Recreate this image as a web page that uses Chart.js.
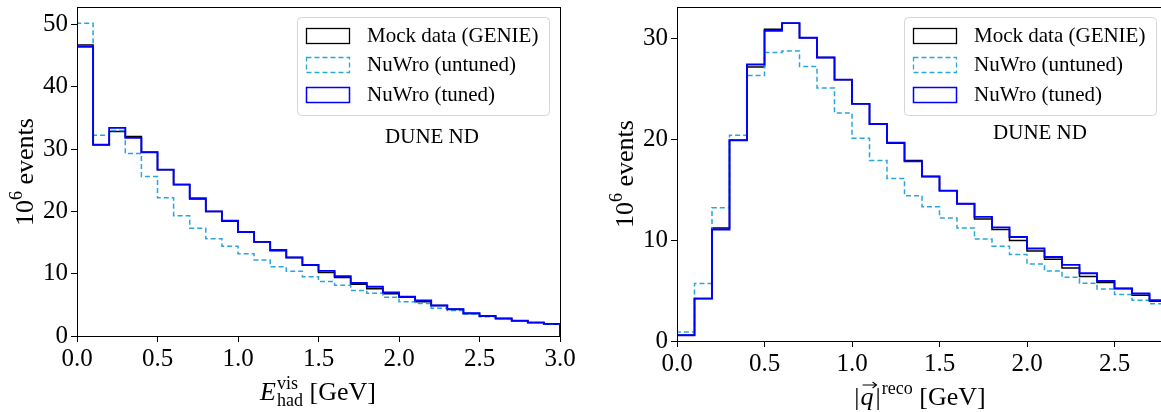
<!DOCTYPE html>
<html>
<head>
<meta charset="utf-8">
<script src="https://cdn.jsdelivr.net/npm/chart.js@4"></script>
<style>
  html, body { margin: 0; padding: 0; background: #fff; overflow: hidden; width: 1161px; height: 412px; }
  canvas { position: absolute; top: 0; }
  #chartLeft { left: 0; }
  #chartRight { left: 600px; }
</style>
</head>
<body>
<canvas id="chartLeft" width="580" height="412"></canvas>
<canvas id="chartRight" width="600" height="412"></canvas>
<script>
// histogram contents, 10^6 events per 0.1 GeV bin
const binWidth = 0.1;

const ehadGenie   = [46.7, 30.7, 32.8, 32.0, 29.5, 26.7, 24.3, 22.0, 20.0, 18.4, 16.7, 15.1, 13.7, 12.6, 11.4, 10.2, 9.4, 8.3, 7.6, 6.8, 6.2, 5.5, 4.9, 4.3, 3.6, 3.2, 2.8, 2.45, 2.15, 1.9];
const ehadUntuned = [50.2, 32.2, 33.0, 29.3, 25.6, 22.2, 19.3, 17.3, 15.6, 14.4, 13.2, 12.2, 11.1, 10.4, 9.5, 8.75, 8.15, 7.3, 6.85, 6.2, 5.5, 5.2, 4.45, 4.1, 3.5, 3.1, 2.75, 2.45, 2.15, 1.9];
const ehadTuned   = [46.4, 30.7, 33.4, 31.8, 29.5, 26.7, 24.3, 22.1, 20.0, 18.5, 16.7, 15.1, 13.8, 12.6, 11.4, 10.45, 9.6, 8.5, 7.9, 7.0, 6.3, 5.7, 4.9, 4.3, 3.65, 3.2, 2.8, 2.45, 2.15, 1.95];

const qGenie   = [0.57, 4.2, 11.2, 19.9, 27.15, 30.9, 31.5, 30.06, 28.1, 25.9, 23.5, 21.5, 19.6, 17.9, 16.3, 14.9, 13.6, 12.1, 11.04, 9.96, 8.93, 8.1, 7.24, 6.39, 5.79, 5.2, 4.53, 3.94];
const qUntuned = [0.9, 5.7, 13.2, 20.4, 26.3, 28.6, 28.75, 27.2, 25.07, 22.6, 20.1, 17.9, 16.1, 14.4, 13.3, 12.2, 11.2, 10.1, 9.4, 8.57, 7.64, 6.94, 6.32, 5.72, 5.16, 4.6, 4.04, 3.7];
const qTuned   = [0.57, 4.2, 11.05, 19.9, 27.4, 30.75, 31.5, 30.06, 28.1, 25.9, 23.5, 21.5, 19.66, 17.8, 16.3, 14.9, 13.6, 12.3, 11.26, 10.3, 9.17, 8.33, 7.54, 6.72, 5.95, 5.2, 4.7, 4.04];

const ehadXTicks = [0, 0.5, 1.0, 1.5, 2.0, 2.5, 3.0];
const ehadYTicks = [0, 10, 20, 30, 40, 50];
const qXTicks = [0, 0.5, 1.0, 1.5, 2.0, 2.5];
const qYTicks = [0, 10, 20, 30];

const seriesLabels = ['Mock data (GENIE)', 'NuWro (untuned)', 'NuWro (tuned)'];

const SERIF = '"Liberation Serif", "DejaVu Serif", serif';
const COL_GENIE = '#000000';
const COL_UNTUNED = '#27a6dc';
const COL_TUNED = '#0000ff';

// step outline like histtype='step': start and end on zero
function histPoints(values) {
  const pts = [{ x: 0, y: 0 }];
  values.forEach((v, i) => pts.push({ x: +(i * binWidth).toFixed(2), y: v }));
  const end = +(values.length * binWidth).toFixed(2);
  pts.push({ x: end, y: values[values.length - 1] });
  pts.push({ x: end, y: 0 });
  return pts;
}

function makeDatasets(genie, untuned, tuned) {
  const base = { stepped: 'before', pointRadius: 0, fill: false, tension: 0 };
  return [
    Object.assign({}, base, { label: seriesLabels[0], data: histPoints(genie), borderColor: COL_GENIE, borderWidth: 1.5, legendWidth: 1.3, order: 3 }),
    Object.assign({}, base, { label: seriesLabels[1], data: histPoints(untuned), borderColor: COL_UNTUNED, borderWidth: 1.5, legendWidth: 1.3, borderDash: [5, 3], order: 2 }),
    Object.assign({}, base, { label: seriesLabels[2], data: histPoints(tuned), borderColor: COL_TUNED, borderWidth: 1.9, legendWidth: 1.5, order: 1 })
  ];
}

function drawYTitle(ctx, xBase, yMid) {
  ctx.save();
  ctx.translate(xBase, yMid);
  ctx.rotate(-Math.PI / 2);
  ctx.fillStyle = '#000';
  ctx.textBaseline = 'alphabetic';
  ctx.textAlign = 'left';
  ctx.font = '26px ' + SERIF;
  const w1 = ctx.measureText('10').width;
  const w3 = ctx.measureText(' events').width;
  ctx.font = '18px ' + SERIF;
  const w2 = ctx.measureText('6').width;
  let x = -(w1 + w2 + w3) / 2;
  ctx.font = '26px ' + SERIF;
  ctx.fillText('10', x, 0);
  ctx.font = '18px ' + SERIF;
  ctx.fillText('6', x + w1, -11);
  ctx.font = '26px ' + SERIF;
  ctx.fillText(' events', x + w1 + w2, 0);
  ctx.restore();
}

function drawEhadTitle(ctx, cx, base) {
  ctx.save();
  ctx.fillStyle = '#000';
  ctx.textBaseline = 'alphabetic';
  ctx.textAlign = 'left';
  ctx.font = 'italic 26px ' + SERIF;
  const wE = ctx.measureText('E').width;
  ctx.font = '18px ' + SERIF;
  const wSub = Math.max(ctx.measureText('vis').width, ctx.measureText('had').width);
  ctx.font = '26px ' + SERIF;
  const wG = ctx.measureText(' [GeV]').width;
  let x = cx - (wE + 1 + wSub + wG) / 2;
  ctx.font = 'italic 26px ' + SERIF;
  ctx.fillText('E', x, base);
  x += wE + 1;
  ctx.font = '18px ' + SERIF;
  ctx.fillText('vis', x, base - 11);
  ctx.fillText('had', x, base + 6);
  x += wSub;
  ctx.font = '26px ' + SERIF;
  ctx.fillText(' [GeV]', x, base);
  ctx.restore();
}

function drawQTitle(ctx, cx, base) {
  ctx.save();
  ctx.fillStyle = '#000';
  ctx.strokeStyle = '#000';
  ctx.textBaseline = 'alphabetic';
  ctx.textAlign = 'left';
  ctx.font = '26px ' + SERIF;
  const wBar = ctx.measureText('|').width;
  const wG = ctx.measureText(' [GeV]').width;
  ctx.font = 'italic 26px ' + SERIF;
  const wQ = ctx.measureText('q').width;
  ctx.font = '18px ' + SERIF;
  const wR = ctx.measureText('reco').width;
  const total = wBar + 1 + wQ + 2 + wBar + 1 + wR + wG;
  let x = cx - total / 2;
  ctx.font = '26px ' + SERIF;
  ctx.fillText('|', x, base);
  x += wBar + 1;
  ctx.font = 'italic 26px ' + SERIF;
  ctx.fillText('q', x, base);
  // vector arrow over q
  const ax0 = x + 2, ax1 = x + wQ + 3, ay = base - 20;
  ctx.lineWidth = 1.1;
  ctx.beginPath();
  ctx.moveTo(ax0, ay);
  ctx.lineTo(ax1, ay);
  ctx.moveTo(ax1 - 4, ay - 3);
  ctx.lineTo(ax1, ay);
  ctx.lineTo(ax1 - 4, ay + 3);
  ctx.stroke();
  x += wQ + 2;
  ctx.font = '26px ' + SERIF;
  ctx.fillText('|', x, base);
  x += wBar + 1;
  ctx.font = '18px ' + SERIF;
  ctx.fillText('reco', x, base - 11);
  x += wR;
  ctx.font = '26px ' + SERIF;
  ctx.fillText(' [GeV]', x, base);
  ctx.restore();
}

// frame, legend, label and axis titles
const panelDecor = {
  id: 'panelDecor',
  afterDraw(chart, args, opts) {
    const ctx = chart.ctx;
    const a = chart.chartArea;
    ctx.save();
    ctx.strokeStyle = '#000';
    ctx.lineWidth = 1;
    ctx.strokeRect(Math.round(a.left) + 0.5, Math.round(a.top) + 0.5, Math.round(a.right - a.left), Math.round(a.bottom - a.top));

    // legend box
    const bw = 252, bh = 98;
    const bx = a.right - 11 - bw, by = a.top + 10;
    ctx.beginPath();
    ctx.roundRect(bx + 0.5, by + 0.5, bw, bh, 4);
    ctx.fillStyle = 'rgba(255,255,255,0.8)';
    ctx.fill();
    ctx.strokeStyle = '#d6d6d6';
    ctx.lineWidth = 1;
    ctx.stroke();

    ctx.font = '21px ' + SERIF;
    ctx.textBaseline = 'middle';
    ctx.textAlign = 'left';
    chart.data.datasets.forEach((ds, i) => {
      const cy = by + 18 + i * 29.8;
      ctx.save();
      ctx.strokeStyle = ds.borderColor;
      ctx.lineWidth = ds.legendWidth;
      ctx.setLineDash(ds.borderDash || []);
      ctx.strokeRect(bx + 9.5, Math.round(cy - 7.5) + 0.5, 43, 15);
      ctx.restore();
      ctx.fillStyle = '#000';
      ctx.fillText(ds.label, bx + 70, cy + 1);
    });

    ctx.textAlign = 'center';
    ctx.fillText('DUNE ND', a.left + opts.tagX, opts.tagY);
    ctx.restore();

    drawYTitle(ctx, a.left - 44, opts.yTitleMid);
    opts.xTitle(ctx, opts.xTitleX, opts.xTitleBase);
  }
};

function makeChart(id, datasets, cfg) {
  const tickFont = { family: SERIF, size: 25 };
  return new Chart(document.getElementById(id), {
    type: 'line',
    data: { datasets: datasets },
    options: {
      responsive: false,
      animation: false,
      events: [],
      layout: { padding: { left: 0, top: 7, right: cfg.padRight, bottom: 0 } },
      plugins: {
        legend: { display: false },
        tooltip: { enabled: false },
        panelDecor: cfg.decor
      },
      scales: {
        x: {
          type: 'linear',
          min: 0,
          max: cfg.xMax,
          afterBuildTicks: s => { s.ticks = cfg.xTicks.map(v => ({ value: v })); },
          afterFit: s => { s.height = cfg.xAxisH; s.paddingLeft = 0; s.paddingRight = 0; },
          ticks: { callback: v => v.toFixed(1), font: tickFont, color: '#000', padding: 2, maxRotation: 0, autoSkip: false },
          grid: { drawOnChartArea: false, drawTicks: true, tickLength: 6, color: '#000', lineWidth: 1 },
          border: { display: false }
        },
        y: {
          type: 'linear',
          min: 0,
          max: cfg.yMax,
          afterBuildTicks: s => { s.ticks = cfg.yTicks.map(v => ({ value: v })); },
          afterFit: s => { s.width = 77; s.paddingTop = 0; s.paddingBottom = 0; },
          ticks: { font: tickFont, color: '#000', padding: 3 },
          grid: { drawOnChartArea: false, drawTicks: true, tickLength: 6, color: '#000', lineWidth: 1 },
          border: { display: false }
        }
      }
    },
    plugins: [panelDecor]
  });
}

makeChart('chartLeft', makeDatasets(ehadGenie, ehadUntuned, ehadTuned), {
  xMax: 3.0, yMax: 52.8, xTicks: ehadXTicks, yTicks: ehadYTicks,
  padRight: 20, xAxisH: 76,
  decor: { tagX: 355, tagY: 137, yTitleMid: 172, xTitle: drawEhadTitle, xTitleX: 318, xTitleBase: 400 }
});

makeChart('chartRight', makeDatasets(qGenie, qUntuned, qTuned), {
  xMax: 2.8, yMax: 33.1, xTicks: qXTicks, yTicks: qYTicks,
  padRight: 33, xAxisH: 71,
  decor: { tagX: 363, tagY: 133, yTitleMid: 174, xTitle: drawQTitle, xTitleX: 320, xTitleBase: 405 }
});
</script>
</body>
</html>
